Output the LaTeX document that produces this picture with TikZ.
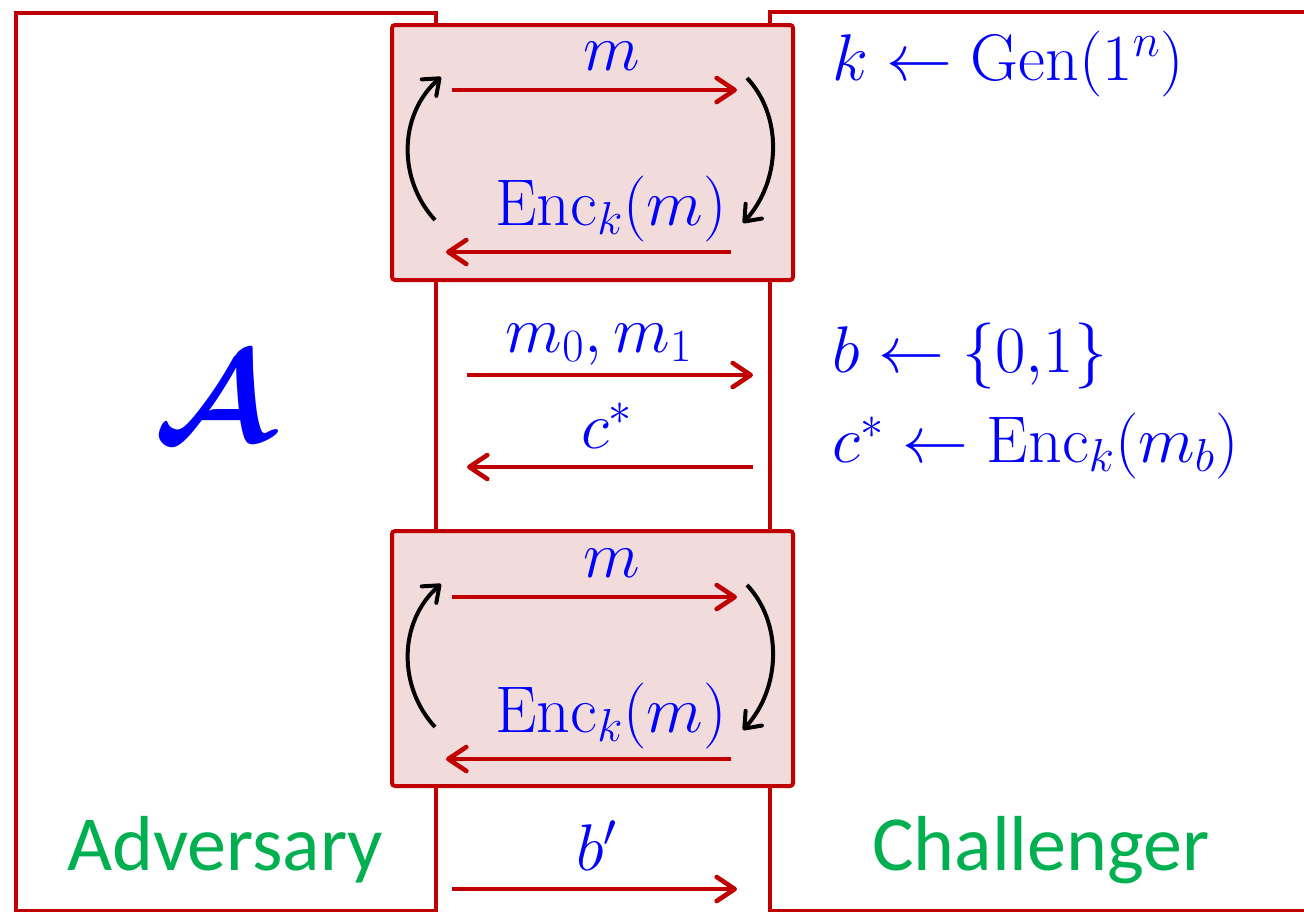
\RequirePackage{fix-cm}
\documentclass[tikz,border=0pt]{standalone}
\usepackage{amsmath,bm}
\usepackage{fontspec}
\newfontfamily\calibri{Carlito}
\usetikzlibrary{arrows.meta}
\definecolor{dred}{HTML}{C00000}
\definecolor{pinkfill}{HTML}{F2DCDB}
\definecolor{mblue}{HTML}{0000FF}
\definecolor{mgreen}{HTML}{00B050}
\tikzset{
  party/.style={draw=dred, line width=1.8pt, fill=none, inner sep=0pt, anchor=north west},
  oraclebox/.style={draw=dred, line width=2pt, fill=pinkfill, rounded corners=1.5pt, inner sep=0pt,
    minimum width=200.5pt, minimum height=127.5pt},
  msg/.style={draw=dred, line width=2.3pt, -{Straight Barb[length=9pt,width=12pt,line cap=round,line join=round]}},
  loop/.style={draw=black, line width=2pt, -{Straight Barb[length=7pt,width=11pt,line cap=round,line join=round]}},
  mathlbl/.style={text=mblue, inner sep=0pt, font=\fontsize{33}{33}\selectfont},
  partylbl/.style={text=mgreen, inner sep=0pt, font=\calibri\fontsize{39}{39}\selectfont},
}
\begin{document}
\begin{tikzpicture}[x=0.5pt,y=-0.5pt]
\useasboundingbox (0,0) rectangle (1304,911);
% parties
\node[party, minimum width=210pt, minimum height=449pt] (adv) at (14,11) {};
\node[party, minimum width=280pt, minimum height=449.5pt] (chal) at (768,10) {};
% oracle boxes
\node[oraclebox] (box1) at (592.5,152.5) {};
\node[oraclebox] (box2) at (592.5,658.5) {};
% top box contents
\coordinate (a1s) at (452,90); \coordinate (a1e) at (737,90);
\coordinate (b1s) at (731,252); \coordinate (b1e) at (446,252);
\coordinate (l1s) at (435,220); \coordinate (l1e) at (441,77);
\coordinate (r1s) at (747,78); \coordinate (r1e) at (743,223);
\draw[msg] (a1s) -- (a1e);
\draw[msg] (b1s) -- (b1e);
\draw[loop] (l1s) .. controls (398,180) and (398,115) .. (l1e);
\draw[loop] (r1s) .. controls (782,115) and (782,180) .. (r1e);
\node[mathlbl, anchor=base] (m1) at (612,70) {$m$};
\node[mathlbl, anchor=base] (e1) at (611,225) {$\mathrm{Enc}_k(m)$};
% bottom box contents
\coordinate (a2s) at (452,597); \coordinate (a2e) at (737,597);
\coordinate (b2s) at (731,759); \coordinate (b2e) at (446,759);
\coordinate (l2s) at (435,727); \coordinate (l2e) at (441,584);
\coordinate (r2s) at (747,585); \coordinate (r2e) at (743,730);
\draw[msg] (a2s) -- (a2e);
\draw[msg] (b2s) -- (b2e);
\draw[loop] (l2s) .. controls (398,687) and (398,622) .. (l2e);
\draw[loop] (r2s) .. controls (782,622) and (782,687) .. (r2e);
\node[mathlbl, anchor=base] (m2) at (612,577) {$m$};
\node[mathlbl, anchor=base] (e2) at (611,732) {$\mathrm{Enc}_k(m)$};
% challenge phase
\coordinate (cs) at (467,375); \coordinate (ce) at (753,375);
\coordinate (ds) at (753,467); \coordinate (de) at (467,467);
\draw[msg] (cs) -- (ce);
\draw[msg] (ds) -- (de);
\node[mathlbl, anchor=base] (mm) at (599,352) {$m_0, m_1$};
\node[mathlbl, anchor=base] (cc) at (607,448) {$c^*$};
% guess
\coordinate (gs) at (452,889); \coordinate (ge) at (737,889);
\draw[msg] (gs) -- (ge);
\node[mathlbl, anchor=base] (bp) at (597,870) {$b'$};
% challenger computations
\node[mathlbl, anchor=base west] (gen) at (832,80) {$k \leftarrow \mathrm{Gen}(1^n)$};
\node[mathlbl, anchor=base west] (bb) at (832,372) {$b \leftarrow \{0{,}1\}$};
\node[mathlbl, anchor=base west] (cstar) at (832,462) {$c^* \leftarrow \mathrm{Enc}_k(m_b)$};
% labels
\node[text=mblue, inner sep=0pt, font=\fontsize{64}{64}\selectfont] (A) at (213,398) {$\bm{\mathcal{A}}$};
\node[partylbl, anchor=base] (advl) at (225,870) {Adversary};
\node[partylbl, anchor=base] (chl) at (1041,870) {Challenger};
\end{tikzpicture}
\end{document}
